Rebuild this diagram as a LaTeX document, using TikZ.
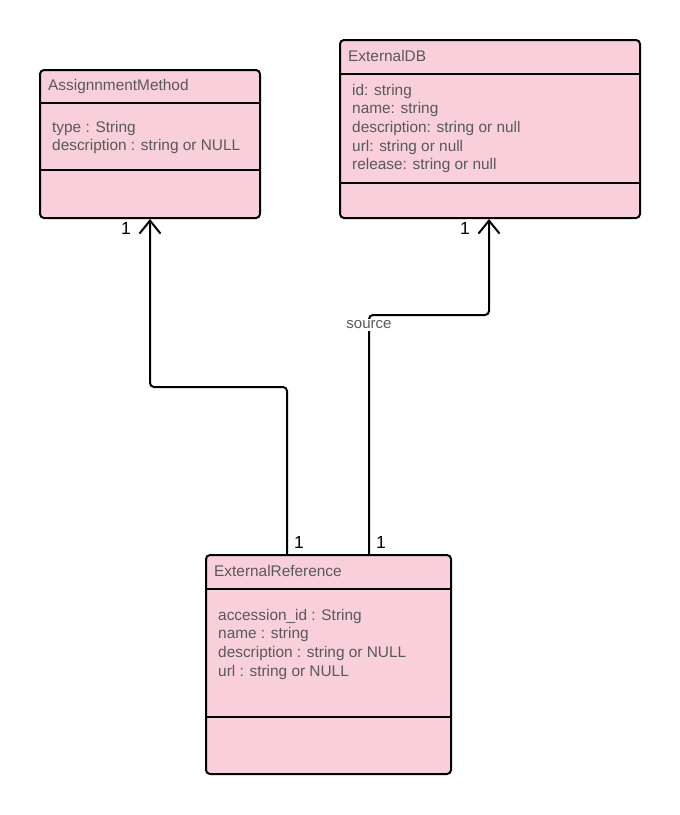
\documentclass[tikz,border=0pt]{standalone}
\usepackage{fontspec}
\setmainfont{Liberation Sans}
\usetikzlibrary{arrows.meta,calc}
\definecolor{boxfill}{HTML}{F8CFDA}
\definecolor{txt}{HTML}{595959}
\tikzset{
  umlbox/.style={draw=black, fill=boxfill, line width=2pt, rounded corners=4pt, inner sep=0pt},
  divider/.style={draw=black, line width=2pt},
  title/.style={anchor=west, text=txt, font=\fontsize{15.4}{18}\selectfont, inner sep=0pt},
  attrs/.style={anchor=north west, text=txt, align=left, font=\fontsize{15.4}{18.6}\selectfont, inner sep=0pt},
  conn/.style={draw=black, line width=2pt, rounded corners=4pt, -{Straight Barb[length=13pt, width=21pt, line width=2pt]}},
  mult/.style={text=black, font=\fontsize{17.5}{20}\selectfont, inner sep=0pt},
  lbl/.style={fill=white, text=txt, font=\fontsize{15}{17}\selectfont, inner sep=1.5pt}
}
\begin{document}
\begin{tikzpicture}[x=1pt, y=-1pt]
\useasboundingbox (0,0) rectangle (680,815);
% AssignnmentMethod
\node[umlbox, minimum width=220pt, minimum height=148pt] (am) at (150,144) {};
\draw[divider] ($(am.north west)+(0,34)$) -- ($(am.north east)+(0,34)$);
\draw[divider] ($(am.north west)+(0,101)$) -- ($(am.north east)+(0,101)$);
\node[title] (amt) at (48,87) {AssignnmentMethod};
\node[attrs] (ama) at (52,121) {type : String\\description : string or NULL};
% ExternalDB
\node[umlbox, minimum width=300pt, minimum height=178pt] (db) at (490,129) {};
\draw[divider] ($(db.north west)+(0,35)$) -- ($(db.north east)+(0,35)$);
\draw[divider] ($(db.north west)+(0,144)$) -- ($(db.north east)+(0,144)$);
\node[title] (dbt) at (348,56) {ExternalDB};
\node[attrs] (dba) at (352,84) {id: string\\name: string\\description: string or null\\url: string or null\\release: string or null};
% ExternalReference
\node[umlbox, minimum width=245pt, minimum height=219pt] (er) at (328.5,664.5) {};
\draw[divider] ($(er.north west)+(0,35)$) -- ($(er.north east)+(0,35)$);
\draw[divider] ($(er.north west)+(0,163)$) -- ($(er.north east)+(0,163)$);
\node[title] (ert) at (214,571) {ExternalReference};
\node[attrs] (era) at (218,609) {accession\_id : String\\name : string\\description : string or NULL\\url : string or NULL};
% connectors
\coordinate (c1) at (287,555);
\coordinate (c2) at (369,555);
\draw[conn] (c1) -- (287,387) -- (150,387) -- (am.south);
\draw[conn] (c2) -- (369,315) -- (489,315) -- (489,219);
\node[lbl] (src) at (369,325) {source};
% multiplicities
\node[mult] (m1) at (126,228) {1};
\node[mult] (m2) at (465,228) {1};
\node[mult] (m3) at (299,542) {1};
\node[mult] (m4) at (381,542) {1};
\end{tikzpicture}
\end{document}
